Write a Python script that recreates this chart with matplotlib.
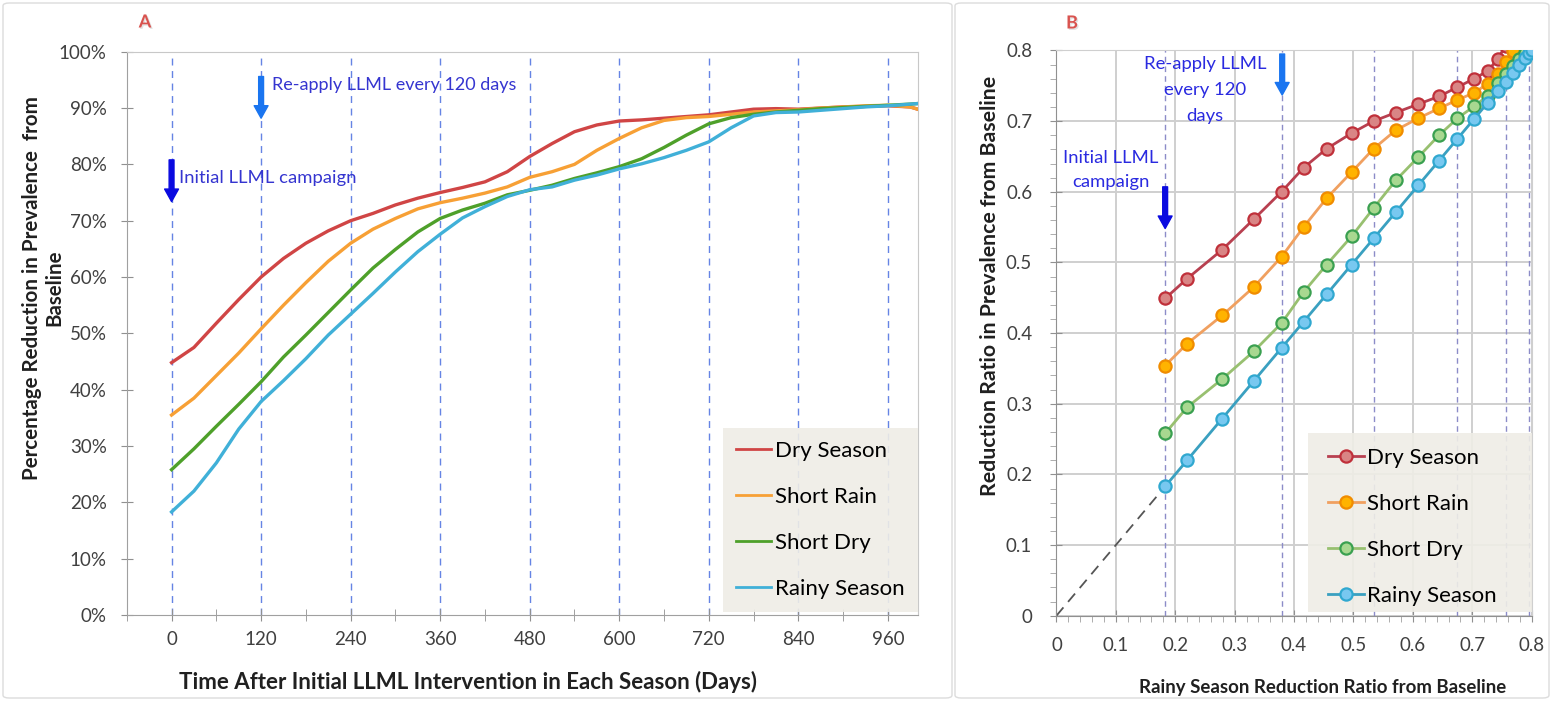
import numpy as np
import matplotlib.pyplot as plt
from matplotlib.patches import FancyBboxPatch, Rectangle
from matplotlib.ticker import MultipleLocator, PercentFormatter
import matplotlib.patheffects as pe

plt.rcParams['font.family'] = ['Lato', 'DejaVu Sans']

# ---------------------------------
# Panel A data: % reduction every 30 days
# ---------------------------------

days_a = [0, 30, 60, 90, 120, 150, 180, 210, 240, 270, 300, 330, 360, 390,
          420, 450, 480, 510, 540, 570, 600, 630, 660, 690, 720, 750, 780,
          810, 840, 870, 900, 930, 960, 990, 1000]

dry_a = [44.8, 47.5, 51.8, 56.0, 60.0, 63.3, 66.0, 68.2, 70.0, 71.3, 72.8,
         74.0, 75.0, 75.9, 76.9, 78.7, 81.4, 83.7, 85.8, 87.0, 87.7, 87.9,
         88.2, 88.5, 88.8, 89.3, 89.8, 89.9, 89.8, 90.0, 90.2, 90.3, 90.4,
         90.2, 89.8]

short_rain_a = [35.5, 38.5, 42.5, 46.5, 50.8, 55.0, 59.0, 62.8, 66.0, 68.5,
                70.4, 72.1, 73.2, 74.0, 74.9, 76.0, 77.7, 78.7, 80.0, 82.5,
                84.6, 86.5, 87.8, 88.3, 88.5, 88.9, 89.3, 89.5, 89.7, 90.0,
                90.2, 90.4, 90.5, 90.2, 89.8]

short_dry_a = [25.8, 29.5, 33.5, 37.4, 41.4, 45.8, 49.7, 53.7, 57.7, 61.6,
               64.9, 68.0, 70.4, 71.9, 73.1, 74.6, 75.4, 76.3, 77.5, 78.5,
               79.6, 81.0, 83.0, 85.2, 87.2, 88.3, 88.9, 89.3, 89.6, 89.9,
               90.1, 90.3, 90.5, 90.7, 90.8]

rainy_a = [18.3, 22.0, 27.0, 33.0, 37.9, 41.6, 45.5, 49.7, 53.4, 57.1, 60.9,
           64.5, 67.6, 70.5, 72.5, 74.3, 75.5, 76.0, 77.2, 78.1, 79.2, 80.1,
           81.2, 82.5, 84.0, 86.5, 88.6, 89.2, 89.3, 89.6, 89.9, 90.2, 90.4,
           90.7, 90.8]

reapply_days = [0, 120, 240, 360, 480, 600, 720, 840, 960]

# ---------------------------------
# Panel B data: reduction ratio vs rainy season ratio
# ---------------------------------

rainy_b = [0.183, 0.220, 0.279, 0.332, 0.379, 0.416, 0.455, 0.497, 0.534,
           0.571, 0.609, 0.644, 0.675, 0.703, 0.726, 0.743, 0.756, 0.768,
           0.779, 0.789, 0.796, 0.800]

dry_b = [0.449, 0.477, 0.518, 0.561, 0.600, 0.634, 0.661, 0.683, 0.700,
         0.712, 0.724, 0.735, 0.748, 0.760, 0.771, 0.788, 0.807]

short_rain_b = [0.354, 0.385, 0.425, 0.465, 0.508, 0.550, 0.591, 0.628,
                0.661, 0.687, 0.704, 0.718, 0.730, 0.740, 0.753, 0.766,
                0.783, 0.799, 0.815]

short_dry_b = [0.258, 0.295, 0.335, 0.374, 0.414, 0.458, 0.497, 0.537,
               0.577, 0.616, 0.649, 0.680, 0.704, 0.721, 0.736, 0.754,
               0.766, 0.778, 0.788, 0.797, 0.808]

b_ticks = [0, 0.1, 0.2, 0.3, 0.4, 0.5, 0.6, 0.7, 0.8]
b_tick_labels = ['0', '0.1', '0.2', '0.3', '0.4', '0.5', '0.6', '0.7', '0.8']

labels = ['Dry Season', 'Short Rain', 'Short Dry', 'Rainy Season']

# ---------------------------------
# Figure
# ---------------------------------

fig = plt.figure(figsize=(15.52, 7.01), dpi=100)

# light panel frames
for x0, w in [(3, 949), (955, 594)]:
    fig.patches.append(FancyBboxPatch(
        (x0 / 1552, 3 / 701), w / 1552, 695 / 701,
        boxstyle="round,pad=0,rounding_size=0.004",
        transform=fig.transFigure, facecolor='none',
        edgecolor='#dcdcdc', lw=1.0, zorder=0))

tick_color = '#404040'
legend_bg = '#efede6'
legend_kw = dict(loc='lower right', fontsize=16, labelspacing=1.17,
                 handlelength=1.6, handletextpad=0.15, borderpad=0.6,
                 borderaxespad=0, fancybox=False)

# ---------------------------------
# Panel A
# ---------------------------------

ax_a = fig.add_axes([0.0817, 0.1227, 0.5096, 0.8035])

for d in reapply_days:
    ax_a.axvline(d, color='#4a6ee0', lw=1.0, dashes=(5, 4), alpha=0.85,
                 zorder=1)

colors_a = ['#d04545', '#f7a035', '#4ea02a', '#40b0d8']
series_a = [dry_a, short_rain_a, short_dry_a, rainy_a]
for vals, c, lab in zip(series_a, colors_a, labels):
    ax_a.plot(days_a, vals, color=c, lw=2.4, label=lab, zorder=3)

ax_a.set_xlim(-60, 1000)
ax_a.set_ylim(0, 100)
ax_a.xaxis.set_major_locator(MultipleLocator(120))
ax_a.xaxis.set_minor_locator(MultipleLocator(60))
ax_a.yaxis.set_major_locator(MultipleLocator(10))
ax_a.yaxis.set_major_formatter(PercentFormatter(decimals=0))
ax_a.tick_params(axis='both', which='both', direction='inout', length=9,
                 color='#909090', labelcolor=tick_color, labelsize=13.5)
ax_a.tick_params(axis='x', pad=7)
ax_a.tick_params(axis='y', pad=10)
for s in ax_a.spines.values():
    s.set_color('#c8c8c8')
ax_a.spines['left'].set_color('#a0a0a0')
ax_a.spines['bottom'].set_color('#a0a0a0')

leg_a = ax_a.legend(bbox_to_anchor=(1.0, 0.005), frameon=True,
                    facecolor=legend_bg, edgecolor='none', framealpha=0.9,
                    **legend_kw)
for line in leg_a.get_lines():
    line.set_linewidth(2.0)

# intervention arrows
ax_a.annotate('', xy=(0, 73.4), xytext=(0, 80.8),
              arrowprops=dict(width=3.5, headwidth=10, headlength=9,
                              color='#0a0ae0', shrink=0))
ax_a.text(10, 77.6, 'Initial LLML campaign', color='#3535d0', fontsize=13.3,
          va='center', ha='left')
ax_a.annotate('', xy=(120, 88.2), xytext=(120, 95.6),
              arrowprops=dict(width=3.5, headwidth=10, headlength=9,
                              color='#1a75f0', shrink=0))
ax_a.text(135, 94.1, 'Re-apply LLML every 120 days', color='#3535d0',
          fontsize=13, va='center', ha='left')

fig.text(145 / 1552, 1 - 22 / 701, 'A', color='#d9534f', fontsize=13,
         fontweight='bold', ha='center', va='center',
         path_effects=[pe.withSimplePatchShadow(offset=(1, -1),
                                                 shadow_rgbFace='#a0a0a0')])

fig.text(43 / 1552, 1 - 288 / 701,
         'Percentage Reduction in Prevalence  from\nBaseline',
         rotation=90, ha='center', va='center', fontsize=14.8,
         fontweight='bold', color='#202020', linespacing=1.15)
fig.text(468 / 1552, 1 - 682 / 701,
         'Time After Initial LLML Intervention in Each Season (Days)',
         ha='center', va='center', fontsize=16, fontweight='bold',
         color='#202020')

# ---------------------------------
# Panel B
# ---------------------------------

ax_b = fig.add_axes([0.6807, 0.1217, 0.3062, 0.8063])

ax_b.set_xlim(0, 0.8)
ax_b.set_ylim(0, 0.8)
ax_b.set_xticks(b_ticks)
ax_b.set_xticklabels(b_tick_labels)
ax_b.set_yticks(b_ticks)
ax_b.set_yticklabels(b_tick_labels)
ax_b.xaxis.set_minor_locator(MultipleLocator(0.02))
ax_b.yaxis.set_minor_locator(MultipleLocator(0.02))
ax_b.grid(True, which='major', color='#cfcfcf', lw=1.4, zorder=0)
ax_b.set_axisbelow(True)
ax_b.tick_params(axis='both', which='major', direction='inout', length=9,
                 color='#909090', labelcolor=tick_color, labelsize=13.5)
ax_b.tick_params(axis='both', which='minor', direction='out', length=4,
                 color='#a0a0a0')
ax_b.tick_params(axis='x', which='major', pad=11)
ax_b.tick_params(axis='y', which='major', pad=13)
for s in ax_b.spines.values():
    s.set_color('#cfcfcf')
ax_b.spines['left'].set_color('#909090')
ax_b.spines['bottom'].set_color('#909090')

# re-application times (every fourth 30-day step)
for xv in rainy_b[::4]:
    ax_b.axvline(xv, color='#8c8cc8', lw=1.0, dashes=(4, 3), zorder=1)

ax_b.plot([0, rainy_b[0]], [0, rainy_b[0]], color='#555555', lw=1.3,
          dashes=(6, 4), zorder=2)

line_b = ['#b84050', '#f0a060', '#98c070', '#3aa0c0']
face_b = ['#d98585', '#ffb300', '#a8d890', '#78c8f0']
edge_b = ['#c0303a', '#f08c00', '#3aa050', '#30a8d0']
series_b = [dry_b, short_rain_b, short_dry_b, rainy_b]
for vals, lc, fc, ec, lab in zip(series_b, line_b, face_b, edge_b, labels):
    ax_b.plot(rainy_b[:len(vals)], vals, color=lc, lw=2.0, marker='o',
              markersize=8.8, markerfacecolor=fc, markeredgecolor=ec,
              markeredgewidth=1.6, label=lab, zorder=3)

# legend box is wider than its entries, so draw the backdrop separately
ax_b.add_patch(Rectangle((0.529, 0.0065), 0.471, 0.317,
                         transform=ax_b.transAxes, facecolor=legend_bg,
                         edgecolor='none', alpha=0.9, zorder=4))
leg_b = ax_b.legend(bbox_to_anchor=(0.955, -0.006), frameon=False,
                    **legend_kw)
leg_b.set_zorder(5)

ax_b.annotate('', xy=(0.38, 0.737), xytext=(0.38, 0.795),
              arrowprops=dict(width=3.5, headwidth=10, headlength=9,
                              color='#1a75f0', shrink=0))
ax_b.text(0.25, 0.744, 'Re-apply LLML\nevery 120\ndays', color='#2a2ae0',
          fontsize=13.3, ha='center', va='center', linespacing=1.75)
ax_b.annotate('', xy=(0.183, 0.548), xytext=(0.183, 0.607),
              arrowprops=dict(width=3.5, headwidth=10, headlength=9,
                              color='#0a0ae0', shrink=0))
ax_b.text(0.092, 0.631, 'Initial LLML\ncampaign', color='#2a2ae0',
          fontsize=13.3, ha='center', va='center', linespacing=1.6)

fig.text(1072 / 1552, 1 - 23 / 701, 'B', color='#d9534f', fontsize=13,
         fontweight='bold', ha='center', va='center',
         path_effects=[pe.withSimplePatchShadow(offset=(1, -1),
                                                 shadow_rgbFace='#a0a0a0')])

fig.text(990 / 1552, 1 - 286 / 701,
         'Reduction Ratio in Prevalence from Baseline',
         rotation=90, ha='center', va='center', fontsize=15.3,
         fontweight='bold', color='#202020')
fig.text(1323 / 1552, 1 - 688 / 701,
         'Rainy Season Reduction Ratio from Baseline',
         ha='center', va='center', fontsize=13.4, fontweight='bold',
         color='#202020')

fig.savefig('out.png', dpi=100)
